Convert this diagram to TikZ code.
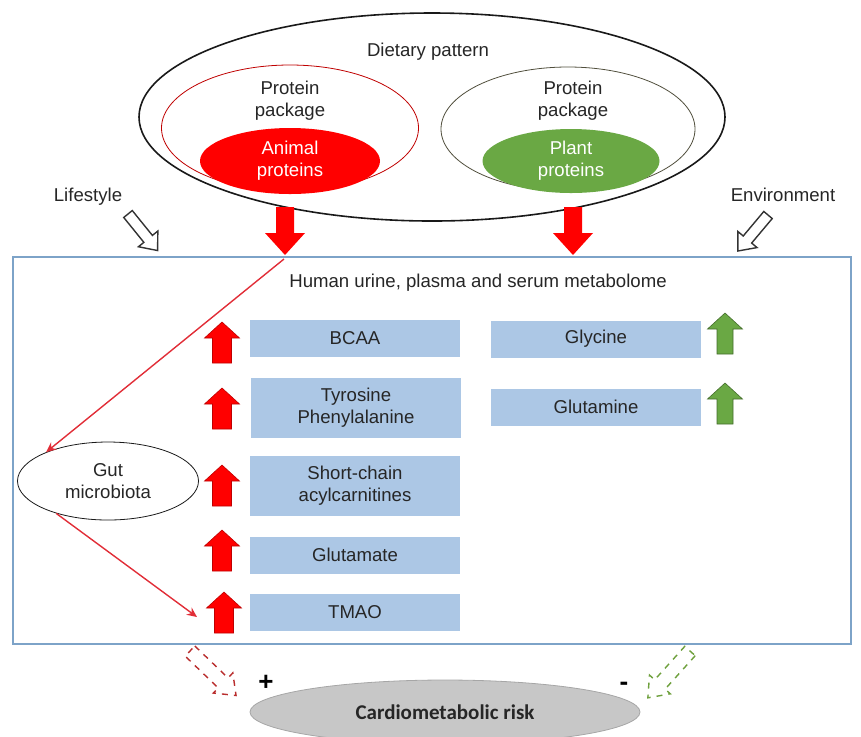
\documentclass[tikz,border=0pt]{standalone}
\usepackage{fontspec}
\setmainfont{Liberation Sans}
\newfontfamily\riskfont{Carlito}
\usetikzlibrary{arrows.meta, shapes.geometric}

\definecolor{boxblue}{RGB}{172,199,229}
\definecolor{frameblue}{RGB}{125,163,200}
\definecolor{plantgreen}{RGB}{106,168,68}
\definecolor{pkgolive}{RGB}{80,78,60}
\definecolor{linered}{RGB}{225,45,55}
\definecolor{dashred}{RGB}{185,45,45}
\definecolor{dashgreen}{RGB}{110,160,60}

\begin{document}
\begin{tikzpicture}[x=0.5pt, y=-0.5pt,
		every node/.style={font=\fontsize{9.3}{11}\selectfont, text=black!85, align=center, inner sep=1pt},
		ov/.style={ellipse, draw=black!90, thick, inner sep=0pt},
		m/.style={rectangle, fill=boxblue, minimum width=105pt, minimum height=18.5pt, inner sep=0pt},
		m2/.style={m, minimum height=30pt},
		redup/.style={fill=red, draw=red!75!black, line width=0.3pt},
		greenup/.style={fill=plantgreen, draw=plantgreen!65!black, line width=0.3pt},
		hol/.style={fill=white, draw=black!80, line width=0.7pt},
		r/.style={-{Stealth[length=5pt, width=4.5pt]}, draw=linered, line width=0.7pt},
		pics/blk/.style n args={4}{code={
			\path[pic actions] (0,-#2) -- ({#1-#4},-#2) -- ({#1-#4},-#3) -- (#1,0)
				-- ({#1-#4},#3) -- ({#1-#4},#2) -- (0,#2) -- cycle;
		}}
		]
		\useasboundingbox (0,0) rectangle (861,736);
		
		%Dietary pattern
		\node[ov, minimum width=293pt, minimum height=104pt]	(diet)	at (432, 117)	{};
		\node	(dietlbl)	at (428, 52)	{Dietary pattern};
		\node[ov, draw=red!75!black, thin, minimum width=128.5pt, minimum height=63pt]	(pkga)	at (290, 128)	{};
		\node[ov, draw=pkgolive, thin, minimum width=127pt, minimum height=62pt]	(pkgp)	at (568, 129)	{};
		\node	(pkgalbl)	at (290, 101)	{Protein\\package};
		\node	(pkgplbl)	at (573, 101)	{Protein\\package};
		\node[ellipse, fill=red, minimum width=90pt, minimum height=33pt, text=white]	(animal)	at (290, 161)	{Animal\\proteins};
		\node[ellipse, fill=plantgreen, minimum width=88.5pt, minimum height=32pt, text=white]	(plant)	at (571, 161)	{Plant\\proteins};
		
		%Side factors
		\node	(life)	at (88, 197)	{Lifestyle};
		\node	(env)	at (783, 195)	{Environment};
		\pic[hol, rotate=-51]	at (128, 214)	{blk={47}{5.5}{12.5}{15}};
		\pic[hol, rotate=-130]	at (768, 215)	{blk={47}{5.5}{12.5}{15}};
		
		%Big arrows
		\pic[fill=red, rotate=-90]	at (285, 207)	{blk={48}{9}{20}{22}};
		\pic[fill=red, rotate=-90]	at (573, 207)	{blk={48}{9}{20}{22}};
		\coordinate (atip) at (284, 259);
		
		%Metabolome
		\node[draw=frameblue, line width=0.8pt, minimum width=419pt, minimum height=193.5pt, inner sep=0pt]	(meta)	at (432, 450.5)	{};
		\node	(metalbl)	at (478, 283)	{Human urine, plasma and serum metabolome};
		
		\node[m]	(bcaa)	at (355, 338.5)	{BCAA};
		\node[m2]	(tyr)	at (356, 408)	{Tyrosine\\Phenylalanine};
		\node[m2]	(acyl)	at (355, 485.5)	{Short-chain\\acylcarnitines};
		\node[m]	(glu)	at (355, 555)	{Glutamate};
		\node[m]	(tmao)	at (355, 612)	{TMAO};
		\node[m]	(gly)	at (596, 339)	{Glycine};
		\node[m]	(gln)	at (596, 407)	{Glutamine};
		
		\pic[redup, rotate=90]	at (222, 363)	{blk={41}{9.5}{17.5}{16}};
		\pic[redup, rotate=90]	at (222, 429)	{blk={41}{9.5}{17.5}{16}};
		\pic[redup, rotate=90]	at (222, 506)	{blk={41}{9.5}{17.5}{16}};
		\pic[redup, rotate=90]	at (222, 571)	{blk={41}{9.5}{17.5}{16}};
		\pic[redup, rotate=90]	at (224, 633)	{blk={41}{9.5}{17.5}{16}};
		\pic[greenup, rotate=90]	at (725, 354)	{blk={41}{8}{17.5}{16}};
		\pic[greenup, rotate=90]	at (725, 424)	{blk={41}{8}{17.5}{16}};
		
		\node[ov, thin, minimum width=90.5pt, minimum height=39pt]	(gut)	at (108, 481)	{Gut\\microbiota};
		\coordinate (tmaoin) at (197, 617);
		
		%Lines
		\draw[r] (atip) -- (gut.155);
		\draw[r] (gut.212) -- (tmaoin);
		
		%Risk
		\node[ellipse, fill=black!22, draw=black!35, minimum width=195pt, minimum height=32pt, font=\riskfont\bfseries\fontsize{10.5}{12}\selectfont, text=black!85]	(risk)	at (445, 712)	{Cardiometabolic risk};
		\pic[fill=white, draw=dashred, dashed, line width=0.7pt, rotate=-44]	at (190, 651)	{blk={64}{7}{14}{18}};
		\pic[fill=white, draw=dashgreen, dashed, line width=0.7pt, rotate=-132]	at (690, 651)	{blk={63}{7}{14}{18}};
		\node[font=\bfseries\fontsize{13}{14}\selectfont, text=black]	(plus)	at (266, 683)	{+};
		\node[font=\bfseries\fontsize{13}{14}\selectfont, text=black]	(minus)	at (624, 686)	{-};
		
	\end{tikzpicture}
\end{document}
